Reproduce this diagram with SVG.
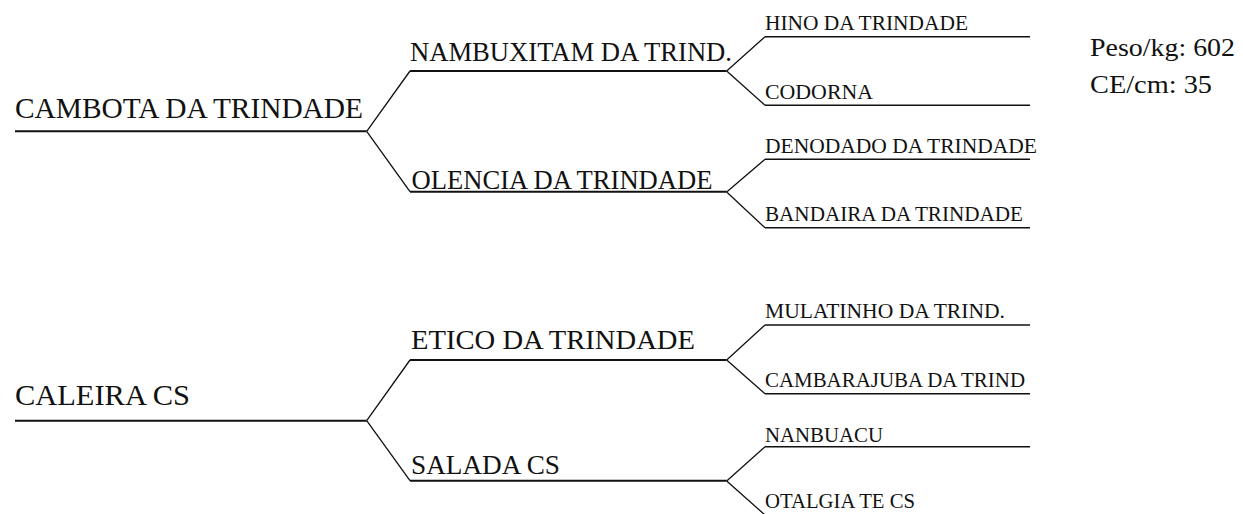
<svg xmlns="http://www.w3.org/2000/svg" width="1243" height="514" viewBox="0 0 1243 514">
<style>
text{fill:#111}
.l1{font-size:30px}
.l2{font-size:28px}
.l3{font-size:21px}
.info{font-size:25px}
.h{stroke:#111;stroke-width:2;fill:none}
.h3{stroke:#111;stroke-width:1.5;fill:none}
.d{stroke:#111;stroke-width:1.3;fill:none}
</style>
<rect width="1243" height="514" fill="#fff"/>
<g id="connectors">
<path class="d" d="M366.7 131.3 L410 71 M366.7 131.3 L410 191.7"/>
<path class="d" d="M726.7 71 L765 36.7 M726.7 71 L765 105.3"/>
<path class="d" d="M726.7 192 L765 159.3 M726.7 192 L765 227.7"/>
<path class="d" d="M366.7 420.7 L410 360 M366.7 420.7 L410 480.7"/>
<path class="d" d="M726.7 360 L765 325 M726.7 360 L765 393.7"/>
<path class="d" d="M726.7 481 L765 446.7 M726.7 481 L765 515"/>
</g>
<g id="nodes" font-family="Liberation Serif">
<g id="n-cambota"><line class="h" x1="15" y1="131.3" x2="366.7" y2="131.3"/><text class="l1" x="15" y="118.3" textLength="348" lengthAdjust="spacingAndGlyphs">CAMBOTA DA TRINDADE</text></g>
<g id="n-nambuxitam"><line class="h" x1="410" y1="71" x2="726.7" y2="71"/><text class="l2" x="410" y="61" textLength="322" lengthAdjust="spacingAndGlyphs">NAMBUXITAM DA TRIND.</text></g>
<g id="n-olencia"><line class="h" x1="410" y1="191.7" x2="726.7" y2="191.7"/><text class="l2" x="411.5" y="188.5" textLength="301" lengthAdjust="spacingAndGlyphs">OLENCIA DA TRINDADE</text></g>
<g id="n-hino"><line class="h3" x1="765" y1="36.7" x2="1030" y2="36.7"/><text class="l3" x="765" y="30" textLength="203" lengthAdjust="spacingAndGlyphs">HINO DA TRINDADE</text></g>
<g id="n-codorna"><line class="h3" x1="765" y1="105.3" x2="1030" y2="105.3"/><text class="l3" x="765" y="99.3" textLength="108" lengthAdjust="spacingAndGlyphs">CODORNA</text></g>
<g id="n-denodado"><line class="h3" x1="765" y1="159.3" x2="1030" y2="159.3"/><text class="l3" x="765" y="152.7" textLength="272" lengthAdjust="spacingAndGlyphs">DENODADO DA TRINDADE</text></g>
<g id="n-bandaira"><line class="h3" x1="765" y1="227.7" x2="1030" y2="227.7"/><text class="l3" x="765" y="220.5" textLength="258" lengthAdjust="spacingAndGlyphs">BANDAIRA DA TRINDADE</text></g>
<g id="n-caleira"><line class="h" x1="15" y1="420.7" x2="366.7" y2="420.7"/><text class="l1" x="15" y="405" textLength="175" lengthAdjust="spacingAndGlyphs">CALEIRA CS</text></g>
<g id="n-etico"><line class="h" x1="410" y1="360" x2="726.7" y2="360"/><text class="l2" x="411" y="349.3" textLength="284" lengthAdjust="spacingAndGlyphs">ETICO DA TRINDADE</text></g>
<g id="n-salada"><line class="h" x1="410" y1="480.7" x2="726.7" y2="480.7"/><text class="l2" x="411" y="474" textLength="149" lengthAdjust="spacingAndGlyphs">SALADA CS</text></g>
<g id="n-mulatinho"><line class="h3" x1="765" y1="325" x2="1030" y2="325"/><text class="l3" x="765" y="318.3" textLength="240" lengthAdjust="spacingAndGlyphs">MULATINHO DA TRIND.</text></g>
<g id="n-cambarajuba"><line class="h3" x1="765" y1="393.7" x2="1030" y2="393.7"/><text class="l3" x="765" y="386.7" textLength="260" lengthAdjust="spacingAndGlyphs">CAMBARAJUBA DA TRIND</text></g>
<g id="n-nanbuacu"><line class="h3" x1="765" y1="446.7" x2="1030" y2="446.7"/><text class="l3" x="765" y="441.7" textLength="118" lengthAdjust="spacingAndGlyphs">NANBUACU</text></g>
<g id="n-otalgia"><text class="l3" x="765" y="508.3" textLength="150" lengthAdjust="spacingAndGlyphs">OTALGIA TE CS</text></g>
<g id="info"><text class="info" x="1090" y="56" textLength="145" lengthAdjust="spacingAndGlyphs">Peso/kg: 602</text><text class="info" x="1090" y="92.7" textLength="122" lengthAdjust="spacingAndGlyphs">CE/cm: 35</text></g>
</g>
</svg>
